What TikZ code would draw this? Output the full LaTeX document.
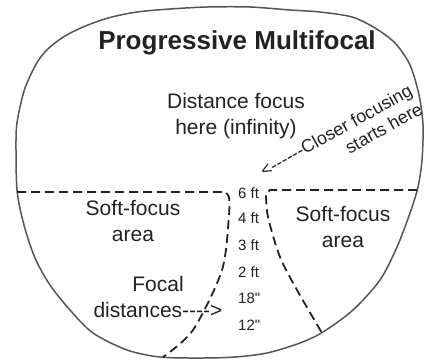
\documentclass[tikz,border=0pt]{standalone}
\usepackage{fontspec}
\setmainfont{Liberation Sans}[Ligatures=TeXOff]
\usetikzlibrary{positioning}
\definecolor{Ink}{HTML}{222222}
\definecolor{Rim}{HTML}{555555}
\tikzset{rim/.style={draw=Rim,line width=1.5pt},zone/.style={draw=Ink,line width=1.8pt,dash pattern=on 9pt off 5pt},lbl/.style={text=Ink,align=center,inner sep=0pt,font=\fontsize{21}{26}\selectfont},dist/.style={text=Ink,anchor=west,inner sep=0pt,font=\fontsize{15}{18}\selectfont},slant/.style={text=Ink,rotate=29,inner sep=0pt,font=\fontsize{18}{21}\selectfont}}

\begin{document}
\begin{tikzpicture}[x=1pt,y=-1pt]
\useasboundingbox (0,0) rectangle (425,360);
% lens outline
\draw[rim] plot[smooth cycle,tension=0.5] coordinates {(16,140) (17,190) (24,225) (35,258) (50,285) (70,310) (93,333) (127,350) (160,357) (200,358) (235,357) (267,353) (300,343) (323,332) (353,310) (380,280) (397,247) (410,213) (418,187) (422,160) (423,125) (419,95) (410,65) (395,43) (375,28) (352,17) (320,12) (290,10) (250,7) (207,7) (170,9) (137,12) (108,18) (83,27) (65,36) (50,47) (40,58) (33,70) (25,88) (20,107) (17,123)};
% zone borders
\draw[zone] (17,192) -- (226,192) -- plot[smooth] coordinates {(229,197) (229,215) (222,270) (193,330) (163,357)};
\draw[zone] (417,190) -- (270,190) -- plot[smooth] coordinates {(266,194) (268,217) (280,257) (297,290) (322,333)};
\node[text=Ink,inner sep=0pt,font=\bfseries\fontsize{26}{30}\selectfont] (title) at (237,43) {Progressive Multifocal};
\node[lbl] (far) at (236,116) {Distance focus\\here (infinity)};
\node[lbl] (softL) at (133,221) {Soft-focus\\area};
\node[lbl] (softR) at (343,227) {Soft-focus\\area};
\node[lbl] (focal) at (158,297) {Focal\\distances---->};
\foreach \y/\t/\n in {193/6 ft/six,218/4 ft/four,245/3 ft/three,272/2 ft/two,298/18"/eighteen,325/12"/twelve}
  \node[dist] (\n) at (238,\y) {\t};
\node[slant,align=right,anchor=north west] (closer) at (258,166) {<------Closer focusing\\starts here};
\end{tikzpicture}
\end{document}
